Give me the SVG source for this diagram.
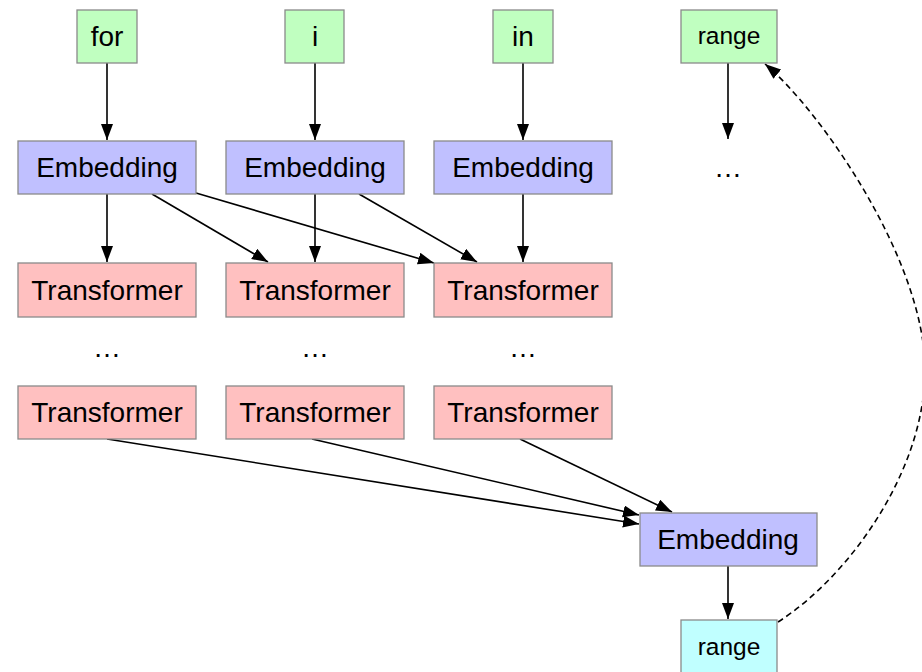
<svg xmlns="http://www.w3.org/2000/svg" width="922" height="672" viewBox="0 0 922 672">
  <style>
    .box { stroke: #8a8a8a; stroke-width: 1.3; }
    .tok { fill: #c0ffc0; }
    .emb { fill: #c0c0ff; }
    .tf { fill: #ffc0c0; }
    .out { fill: #c0ffff; }
    text { font-family: "Liberation Sans", Arial, Helvetica, sans-serif; font-size: 28px; fill: #000; text-anchor: middle; }
    text.small { font-size: 24.5px; }
    .edge { fill: none; stroke: #000; stroke-width: 1.6; marker-end: url(#arrow); }
    .dashed { stroke-dasharray: 6 4; }
  </style>
  <defs>
    <marker id="arrow" markerUnits="userSpaceOnUse" markerWidth="17" markerHeight="13" refX="16" refY="6" orient="auto">
      <path d="M0,0 L16,6 L0,12 Z" fill="#000"/>
    </marker>
  </defs>
  <rect width="922" height="672" fill="#fff"/>

  <g id="edges">
    <path class="edge" d="M107,63 L107,140"/>
    <path class="edge" d="M315,63 L315,140"/>
    <path class="edge" d="M523,63 L523,140"/>
    <path class="edge" d="M728,63 L728,139"/>
    <path class="edge" d="M107,194 L107,262"/>
    <path class="edge" d="M152,194 L268,262"/>
    <path class="edge" d="M196,193 L434,263"/>
    <path class="edge" d="M315,194 L315,262"/>
    <path class="edge" d="M359,194 L477,262"/>
    <path class="edge" d="M523,194 L523,262"/>
    <path class="edge" d="M107,439 L639,524"/>
    <path class="edge" d="M312,439 L639,515"/>
    <path class="edge" d="M520,439 L672,512"/>
    <path class="edge" d="M728,566 L728,619"/>
    <path class="edge dashed" d="M778,622 C850,576 925,470 925,370 C925,260 820,110 765,64"/>
  </g>

  <g id="tok-for"><rect class="box tok" x="77" y="10" width="60" height="53"/><text x="107" y="46">for</text></g>
  <g id="tok-i"><rect class="box tok" x="285" y="10" width="59" height="53"/><text x="315" y="46">i</text></g>
  <g id="tok-in"><rect class="box tok" x="493" y="10" width="60" height="53"/><text x="523" y="46">in</text></g>
  <g id="tok-range"><rect class="box tok" x="681" y="10" width="96" height="53"/><text class="small" x="729" y="44">range</text></g>

  <g id="emb-1"><rect class="box emb" x="18" y="141" width="178" height="53"/><text x="107" y="177">Embedding</text></g>
  <g id="emb-2"><rect class="box emb" x="226" y="141" width="178" height="53"/><text x="315" y="177">Embedding</text></g>
  <g id="emb-3"><rect class="box emb" x="434" y="141" width="178" height="53"/><text x="523" y="177">Embedding</text></g>
  <g id="more-range"><text x="728" y="177">…</text></g>

  <g id="tf-1a"><rect class="box tf" x="18" y="263" width="178" height="54"/><text x="107" y="300">Transformer</text></g>
  <g id="tf-2a"><rect class="box tf" x="226" y="263" width="178" height="54"/><text x="315" y="300">Transformer</text></g>
  <g id="tf-3a"><rect class="box tf" x="434" y="263" width="178" height="54"/><text x="523" y="300">Transformer</text></g>

  <g id="more-1"><text x="107" y="357">…</text></g>
  <g id="more-2"><text x="315" y="357">…</text></g>
  <g id="more-3"><text x="523" y="357">…</text></g>

  <g id="tf-1b"><rect class="box tf" x="18" y="386" width="178" height="53"/><text x="107" y="422">Transformer</text></g>
  <g id="tf-2b"><rect class="box tf" x="226" y="386" width="178" height="53"/><text x="315" y="422">Transformer</text></g>
  <g id="tf-3b"><rect class="box tf" x="434" y="386" width="178" height="53"/><text x="523" y="422">Transformer</text></g>

  <g id="emb-out"><rect class="box emb" x="640" y="513" width="177" height="53"/><text x="728" y="549">Embedding</text></g>
  <g id="out-range"><rect class="box out" x="681" y="620" width="96" height="53"/><text class="small" x="729" y="655">range</text></g>
</svg>
